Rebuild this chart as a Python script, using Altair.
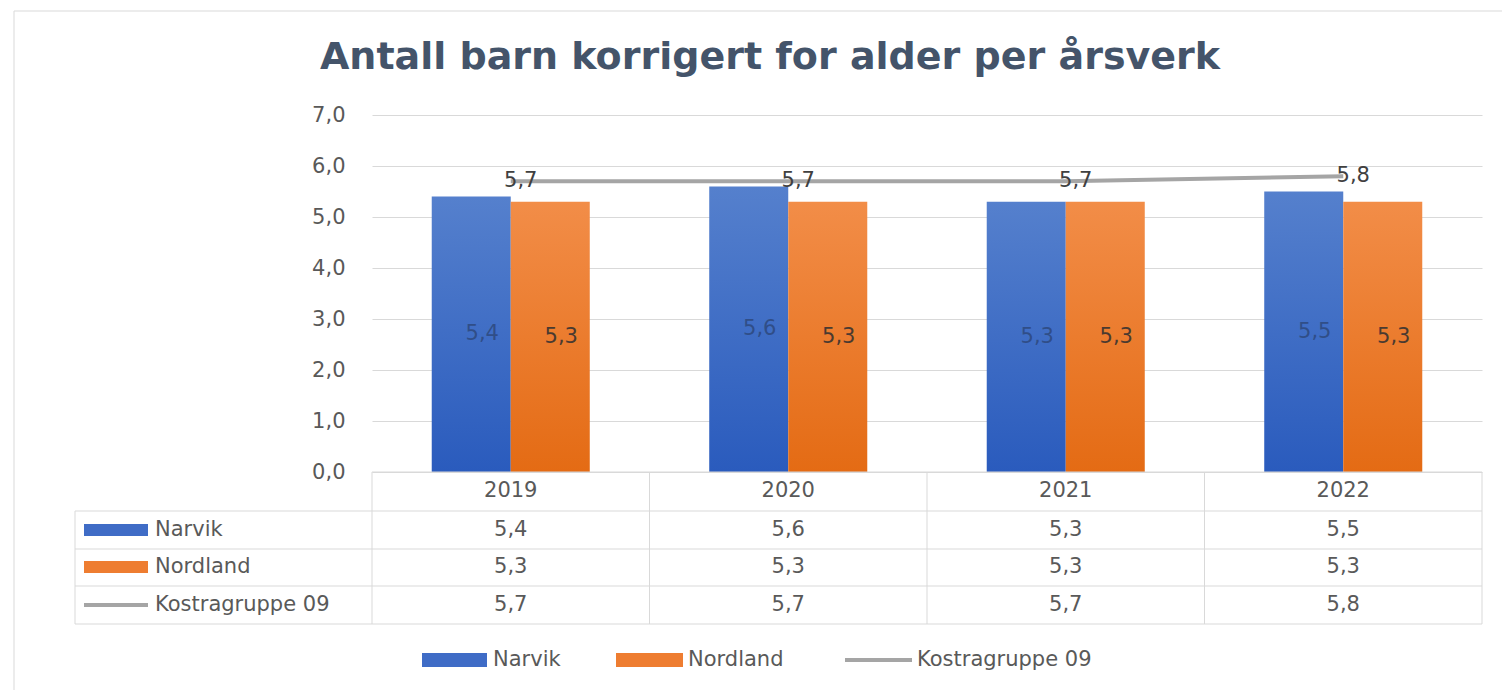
import altair as alt
import pandas as pd

# ---- data ----
years = ["2019", "2020", "2021", "2022"]
narvik = [5.4, 5.6, 5.3, 5.5]
nordland = [5.3, 5.3, 5.3, 5.3]
kostra = [5.7, 5.7, 5.7, 5.8]
series_names = ["Narvik", "Nordland", "Kostragruppe 09"]
y_ticks = [0, 1, 2, 3, 4, 5, 6, 7]
title_text = "Antall barn korrigert for alder per årsverk"

rows = []
for name, vals in zip(series_names, [narvik, nordland, kostra]):
    for yr, v in zip(years, vals):
        rows.append({"year": yr, "series": name, "value": v})
df = pd.DataFrame(rows)
df["label"] = df["value"].map(lambda v: f"{v:.1f}".replace(".", ","))
df["half"] = df["value"] / 2

# ---- layout constants ----
W, H = 1110, 357
PAD = {"left": 364, "top": 107, "right": 20, "bottom": 218}
FONT = "DejaVu Sans"
FS = 21
TXT = "#595959"
GRID = "#d9d9d9"
BLUE = "#3f6cc6"
ORANGE = "#ee7d31"
GRAY = "#a5a5a5"

grad_blue = {"gradient": "linear", "x1": 0, "y1": 0, "x2": 0, "y2": 1,
             "stops": [{"offset": 0, "color": "#5580cd"}, {"offset": 1, "color": "#2a5bbd"}]}
grad_orange = {"gradient": "linear", "x1": 0, "y1": 0, "x2": 0, "y2": 1,
               "stops": [{"offset": 0, "color": "#f28d48"}, {"offset": 1, "color": "#e46b14"}]}

x_scale = alt.Scale(domain=years, paddingInner=0, paddingOuter=0)
y_scale = alt.Scale(domain=[0, 7], nice=False, zero=True)
y_axis = alt.Axis(values=y_ticks, labelExpr="replace(format(datum.value, '.1f'), '.', ',')",
                  domain=False, ticks=False, grid=True, gridColor=GRID, gridWidth=1,
                  labelPadding=27, labelFontSize=FS, labelColor=TXT, labelFont=FONT, title=None)
xo_scale = alt.Scale(domain=["Narvik", "Nordland"], paddingInner=0, paddingOuter=0.756)

X = alt.X("year:N", scale=x_scale, axis=None)
XO = alt.XOffset("series:N", scale=xo_scale)
Y = alt.Y("value:Q", scale=y_scale, axis=y_axis)

base = alt.Chart(df)
one = alt.Chart(pd.DataFrame({"k": [0]}))

layers = []

# bars
layers.append(base.transform_filter(alt.datum.series == "Narvik")
              .mark_bar(fill=grad_blue).encode(x=X, xOffset=XO, y=Y))
layers.append(base.transform_filter(alt.datum.series == "Nordland")
              .mark_bar(fill=grad_orange).encode(x=X, xOffset=XO, y=Y))

# bar value labels
layers.append(base.transform_filter("datum.series != 'Kostragruppe 09'")
              .mark_text(dx=11, baseline="middle", fontSize=FS, font=FONT)
              .encode(x=X, xOffset=XO,
                      y=alt.Y("half:Q", scale=y_scale, axis=y_axis),
                      text="label:N",
                      color=alt.Color("series:N", scale=alt.Scale(domain=["Narvik", "Nordland"],
                                                                  range=["#304e88", "#4a3a30"]),
                                      legend=None)))

# line
kos = base.transform_filter(alt.datum.series == "Kostragruppe 09")
layers.append(kos.mark_line(color=GRAY, strokeWidth=4).encode(x=X, y=Y))
layers.append(kos.mark_text(dx=10, baseline="middle", fontSize=FS, font=FONT, color="#404040")
              .encode(x=X, y=Y, text="label:N"))

# ---- data table ----
row_lines = [357, 396, 434, 471, 509]
row_centers = {"header": 376, "Narvik": 415, "Nordland": 452, "Kostragruppe 09": 490}
LEFT = -297

# vertical borders
layers.append(base.transform_filter(alt.datum.series == "Narvik")
              .mark_rule(color=GRID, strokeWidth=1)
              .encode(x=alt.X("year:N", scale=x_scale, axis=None, bandPosition=0),
                      y=alt.value(row_lines[0]), y2=alt.value(row_lines[-1])))
layers.append(one.mark_rule(color=GRID, strokeWidth=1)
              .encode(x=alt.value(W), y=alt.value(row_lines[0]), y2=alt.value(row_lines[-1])))
layers.append(one.mark_rule(color=GRID, strokeWidth=1)
              .encode(x=alt.value(LEFT), y=alt.value(row_lines[1]), y2=alt.value(row_lines[-1])))
# horizontal borders
layers.append(one.mark_rule(color=GRID, strokeWidth=1)
              .encode(x=alt.value(0), x2=alt.value(W), y=alt.value(row_lines[0])))
for py in row_lines[1:]:
    layers.append(one.mark_rule(color=GRID, strokeWidth=1)
                  .encode(x=alt.value(LEFT), x2=alt.value(W), y=alt.value(py)))

# header years
layers.append(base.transform_filter(alt.datum.series == "Narvik")
              .mark_text(fontSize=FS, font=FONT, color=TXT, baseline="middle")
              .encode(x=X, y=alt.value(row_centers["header"]), text="year:N"))
# values per row
for s in series_names:
    layers.append(base.transform_filter(alt.datum.series == s)
                  .mark_text(fontSize=FS, font=FONT, color=TXT, baseline="middle")
                  .encode(x=X, y=alt.value(row_centers[s]), text="label:N"))

# row label keys
sw_x0, sw_x1, lab_x = -288, -224, -217
for s, col in [("Narvik", BLUE), ("Nordland", ORANGE)]:
    cy = row_centers[s]
    layers.append(one.mark_rect(fill=col).encode(x=alt.value(sw_x0), x2=alt.value(sw_x1),
                                                 y=alt.value(cy - 6), y2=alt.value(cy + 6)))
cy = row_centers["Kostragruppe 09"]
layers.append(one.mark_rule(color=GRAY, strokeWidth=4).encode(x=alt.value(sw_x0), x2=alt.value(sw_x1),
                                                              y=alt.value(cy)))
for s in series_names:
    layers.append(one.mark_text(text=s, fontSize=FS, font=FONT, color=TXT, align="left", baseline="middle")
                  .encode(x=alt.value(lab_x), y=alt.value(row_centers[s])))

# ---- legend ----
LY = 545
leg = [("Narvik", BLUE, 50, 115, 121), ("Nordland", ORANGE, 244, 311, 316)]
for s, col, a, b, t in leg:
    layers.append(one.mark_rect(fill=col).encode(x=alt.value(a), x2=alt.value(b),
                                                 y=alt.value(LY - 7), y2=alt.value(LY + 7)))
    layers.append(one.mark_text(text=s, fontSize=FS, font=FONT, color=TXT, align="left", baseline="middle")
                  .encode(x=alt.value(t), y=alt.value(LY)))
layers.append(one.mark_rule(color=GRAY, strokeWidth=4).encode(x=alt.value(473), x2=alt.value(540),
                                                              y=alt.value(LY)))
layers.append(one.mark_text(text="Kostragruppe 09", fontSize=FS, font=FONT, color=TXT, align="left",
                            baseline="middle").encode(x=alt.value(545), y=alt.value(LY)))

# ---- title ----
layers.append(one.mark_text(text=title_text, fontSize=38, font=FONT, fontWeight="bold",
                            color="#44546a", align="center", baseline="middle")
              .encode(x=alt.value(398), y=alt.value(-57)))

# ---- outer frame ----
layers.append(one.mark_rule(color=GRID, strokeWidth=1).encode(x=alt.value(-358), x2=alt.value(W + 20),
                                                              y=alt.value(-104)))
layers.append(one.mark_rule(color=GRID, strokeWidth=1).encode(x=alt.value(-358), y=alt.value(-104),
                                                              y2=alt.value(H + 218)))

chart = alt.layer(*layers).properties(
    width=W, height=H, padding=PAD, autosize=alt.AutoSizeParams(type="none"),
    background="white"
).configure_view(stroke=None)

chart.save("out.html", embed_options={"renderer": "svg", "actions": False})
